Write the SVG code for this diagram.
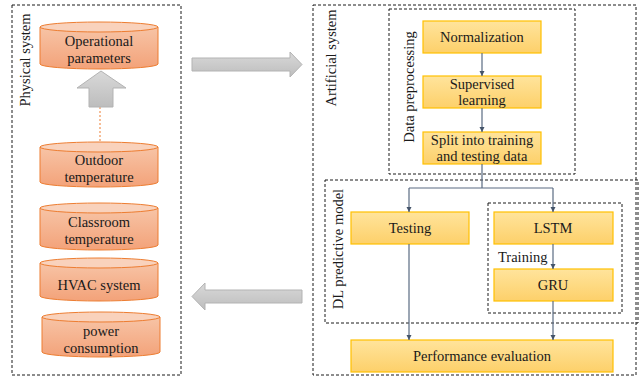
<svg xmlns="http://www.w3.org/2000/svg" width="641" height="379" viewBox="0 0 641 379">
  <defs>
    <linearGradient id="cylBody" x1="0" y1="0" x2="0" y2="1">
      <stop offset="0" stop-color="#f7c4a6"/>
      <stop offset="1" stop-color="#f3a279"/>
    </linearGradient>
    <linearGradient id="boxFill" x1="0" y1="0" x2="0" y2="1">
      <stop offset="0" stop-color="#ffe49c"/>
      <stop offset="1" stop-color="#fdd06a"/>
    </linearGradient>
    <linearGradient id="bigArrow" x1="0" y1="0" x2="0" y2="1">
      <stop offset="0" stop-color="#d9d9d9"/>
      <stop offset="1" stop-color="#bdbdbd"/>
    </linearGradient>
    <marker id="arr" markerWidth="8" markerHeight="8" refX="6" refY="4" orient="auto" markerUnits="userSpaceOnUse">
      <path d="M1,1.5 L6,4 L1,6.5 Z" fill="#44546a"/>
    </marker>
  </defs>
  <style>
    .frame { fill: none; stroke: #1a1a1a; stroke-width: 1; stroke-dasharray: 3 2; }
    .cyl { fill: url(#cylBody); stroke: #ed7d31; stroke-width: 1; }
    .cyltop { fill: #f9d2bc; stroke: #ed7d31; stroke-width: 1; }
    .box { fill: url(#boxFill); stroke: #ffc000; stroke-width: 1.2; }
    .t { font-family: "Liberation Serif", "Times New Roman", serif; font-size: 14.5px; fill: #1a1a1a; text-anchor: middle; }
    .lbl { font-family: "Liberation Serif", "Times New Roman", serif; font-size: 14.5px; fill: #1a1a1a; text-anchor: middle; }
    .flow { fill: none; stroke: #5a6b82; stroke-width: 1.2; }
    .garrow { fill: url(#bigArrow); stroke: #b3b3b3; stroke-width: 1; }
  </style>

  <!-- Frames -->
  <g id="physical-system">
    <rect class="frame" x="12" y="5" width="169" height="370"/>
    <text class="lbl" transform="translate(30,60) rotate(-90)">Physical system</text>
  </g>
  <g id="artificial-system">
    <rect class="frame" x="313" y="5" width="323" height="370"/>
    <text class="lbl" transform="translate(336,58) rotate(-90)">Artificial system</text>
  </g>
  <g id="data-preprocessing">
    <rect class="frame" x="389" y="9" width="186" height="165"/>
    <text class="lbl" transform="translate(414,87) rotate(-90)">Data preprocessing</text>
  </g>
  <g id="dl-predictive-model">
    <rect class="frame" x="325" y="180" width="313" height="143"/>
    <text class="lbl" transform="translate(343,249) rotate(-90)">DL predictive model</text>
  </g>
  <g id="training-group">
    <rect class="frame" x="488" y="203" width="134" height="110"/>
    <text x="498" y="262" style="font-family:'Liberation Serif','Times New Roman',serif;font-size:14.5px;fill:#1a1a1a">Training</text>
  </g>

  <!-- Cylinders -->
  <g id="operational-parameters">
    <path class="cyl" d="M40,27 V64 A59,5 0 0 0 158,64 V27"/>
    <ellipse class="cyltop" cx="99" cy="27" rx="59" ry="5"/>
    <text class="t" x="99" y="46">Operational</text>
    <text class="t" x="99" y="63">parameters</text>
  </g>
  <g id="outdoor-temperature">
    <path class="cyl" d="M40,147 V182 A59,5 0 0 0 158,182 V147"/>
    <ellipse class="cyltop" cx="99" cy="147" rx="59" ry="5"/>
    <text class="t" x="99" y="165">Outdoor</text>
    <text class="t" x="99" y="182">temperature</text>
  </g>
  <g id="classroom-temperature">
    <path class="cyl" d="M40,208 V245 A59,5 0 0 0 158,245 V208"/>
    <ellipse class="cyltop" cx="99" cy="208" rx="59" ry="5"/>
    <text class="t" x="99" y="227">Classroom</text>
    <text class="t" x="99" y="244">temperature</text>
  </g>
  <g id="hvac-system">
    <path class="cyl" d="M40,263 V296 A59,5 0 0 0 158,296 V263"/>
    <ellipse class="cyltop" cx="99" cy="263" rx="59" ry="5"/>
    <text class="t" x="99" y="290">HVAC system</text>
  </g>
  <g id="power-consumption">
    <path class="cyl" d="M42,317 V352 A59,5 0 0 0 160,352 V317"/>
    <ellipse class="cyltop" cx="101" cy="317" rx="59" ry="5"/>
    <text class="t" x="101" y="336">power</text>
    <text class="t" x="101" y="353">consumption</text>
  </g>

  <!-- Process boxes -->
  <g id="normalization">
    <rect class="box" x="423" y="21" width="118" height="32"/>
    <text class="t" x="482" y="42">Normalization</text>
  </g>
  <g id="supervised-learning">
    <rect class="box" x="423" y="76" width="118" height="32"/>
    <text class="t" x="482" y="89">Supervised</text>
    <text class="t" x="482" y="105">learning</text>
  </g>
  <g id="split-data">
    <rect class="box" x="423" y="132" width="118" height="32"/>
    <text class="t" x="482" y="145">Split into training</text>
    <text class="t" x="482" y="161">and testing data</text>
  </g>
  <g id="testing">
    <rect class="box" x="351" y="212" width="118" height="32"/>
    <text class="t" x="410" y="233">Testing</text>
  </g>
  <g id="lstm">
    <rect class="box" x="494" y="212" width="119" height="32"/>
    <text class="t" x="553" y="233">LSTM</text>
  </g>
  <g id="gru">
    <rect class="box" x="494" y="269" width="119" height="32"/>
    <text class="t" x="553" y="290">GRU</text>
  </g>
  <g id="performance-evaluation">
    <rect class="box" x="351" y="340" width="262" height="32"/>
    <text class="t" x="482" y="361">Performance evaluation</text>
  </g>

  <!-- Connectors -->
  <g id="connectors">
    <path class="flow" d="M482,53 V76" marker-end="url(#arr)"/>
    <path class="flow" d="M482,108 V132" marker-end="url(#arr)"/>
    <path class="flow" d="M482,164 V188 M409,188 H553"/>
    <path class="flow" d="M409,188 V212" marker-end="url(#arr)"/>
    <path class="flow" d="M553,188 V212" marker-end="url(#arr)"/>
    <path class="flow" d="M553,244 V269" marker-end="url(#arr)"/>
    <path class="flow" d="M409,244 V340" marker-end="url(#arr)"/>
    <path class="flow" d="M553,301 V340" marker-end="url(#arr)"/>
    <path d="M100,107 V142" fill="none" stroke="#ed7d31" stroke-width="1" stroke-dasharray="2 2"/>
    <path class="garrow" d="M89,107 V88 H77 L101,71 L126,88 H113 V107 Z"/>
    <path class="garrow" d="M192,58 H290 V52 L302,64.5 L290,77 V71 H192 Z"/>
    <path class="garrow" d="M302,290 H205 V283 L192,296.5 L205,310 V303 H302 Z"/>
  </g>
</svg>
